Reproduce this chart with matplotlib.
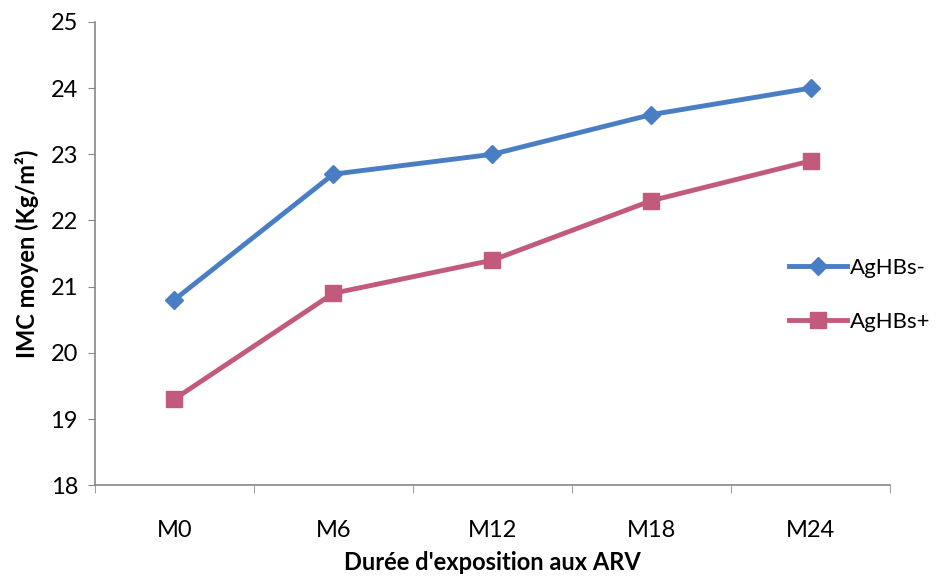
import matplotlib
matplotlib.use("Agg")
import matplotlib.pyplot as plt
import numpy as np

categories = ["M0", "M6", "M12", "M18", "M24"]
agHBs_neg = [20.8, 22.7, 23.0, 23.6, 24.0]
agHBs_pos = [19.3, 20.9, 21.4, 22.3, 22.9]

plt.rcParams['font.family'] = ['Lato', 'DejaVu Sans']

fig = plt.figure(figsize=(9.37, 5.77), dpi=100)
ax = fig.add_axes([0.101, 0.159, 0.849, 0.803])

x = np.arange(len(categories))
ax.plot(x, agHBs_neg, color="#4A7EC4", lw=3.5, marker="D", ms=9, label="AgHBs-")
ax.plot(x, agHBs_pos, color="#C25A7C", lw=3.5, marker="s", ms=12, label="AgHBs+")

ax.set_xlim(-0.5, len(categories) - 0.5)
ax.set_ylim(18, 25)
ax.set_yticks(range(18, 26))
ax.tick_params(axis="y", labelsize=17, length=5, color="#888888", pad=7)

ax.set_xticks(x)
ax.set_xticklabels(categories, fontsize=17)
ax.set_xticks(np.arange(-0.5, len(categories)), minor=True)
ax.tick_params(axis="x", which="major", length=0, pad=25)
ax.tick_params(axis="x", which="minor", length=6, color="#888888")

for s in ["top", "right"]:
    ax.spines[s].set_visible(False)
for s in ["left", "bottom"]:
    ax.spines[s].set_color("#888888")
    ax.spines[s].set_linewidth(1.2)

ax.set_xlabel("Durée d'exposition aux ARV", fontsize=17, fontweight="bold", labelpad=7)
ax.set_ylabel("IMC moyen (Kg/m²)", fontsize=17, fontweight="bold", labelpad=8)

fig.legend(loc="center right", bbox_to_anchor=(0.993, 0.489), frameon=False,
           fontsize=16, handlelength=2.6, labelspacing=1.5, handletextpad=0.15,
           borderaxespad=0, borderpad=0)

fig.savefig("out.png", dpi=100)
